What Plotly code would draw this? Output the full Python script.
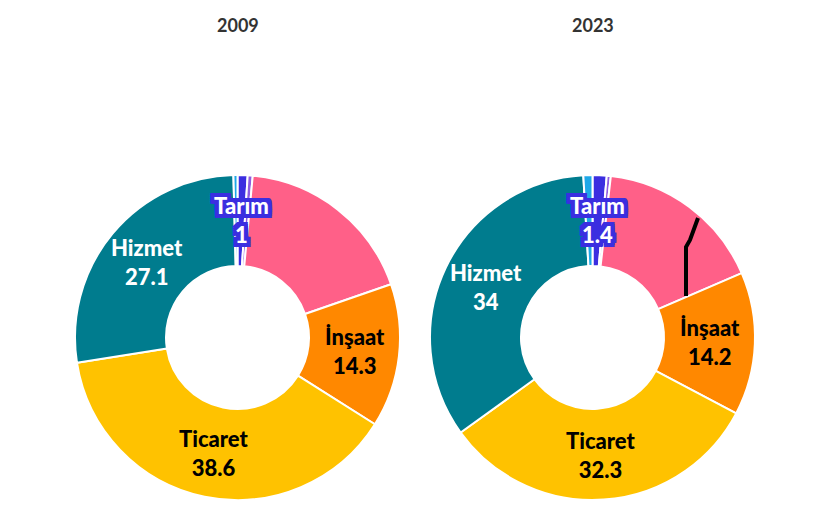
import math
import plotly.graph_objects as go

# ---- data ----
years = ["2009", "2023"]
sectors = ["Tarım", "Enerji", "Sanayi", "İnşaat", "Ticaret", "Hizmet", "Madencilik"]
values_2009 = [1.0, 0.5, 18.2, 14.3, 38.6, 27.1, 0.4]
values_2023 = [1.4, 0.4, 16.7, 14.2, 32.3, 34.0, 0.9]
labeled = ["Tarım", "İnşaat", "Ticaret", "Hizmet"]

colors = ["#3B2EE0", "#8F5CE0", "#FF6088", "#FF8800", "#FFC200", "#007C8E", "#1EA8E8"]
label_colors = {"Tarım": "white", "İnşaat": "black", "Ticaret": "black", "Hizmet": "white"}

W, H = 828, 507
OFF = 8  # page body margin
FONT = "Lato"
HOLE = 0.44
HALO = "#3B2EE0"


def px2paper(px, py):
    return (px - OFF) / W, 1 - (py - OFF) / H


# donut placement in screen pixels: centre x, centre y, radius
placements = [(237.5, 337.5, 162.5), (592.5, 337.5, 162.5)]

halo = ", ".join(f"{dx}px {dy}px 0 {HALO}"
                 for dx in (-4, -2, 0, 2, 4) for dy in (-4, -2, 0, 2, 4)
                 if not (dx == 0 and dy == 0))

fig = go.Figure()
annotations = []

for yr, vals, (cx, cy, R) in zip(years, [values_2009, values_2023], placements):
    x0, y1 = px2paper(cx - R, cy - R)
    x1, y0 = px2paper(cx + R, cy + R)
    fig.add_trace(go.Pie(
        labels=sectors, values=vals, hole=HOLE, sort=False,
        direction="clockwise", rotation=0,
        marker=dict(colors=colors, line=dict(color="white", width=2)),
        textinfo="none", showlegend=False,
        domain=dict(x=[x0, x1], y=[y0, y1]),
        hovertemplate="%{label}: %{value}<extra>" + yr + "</extra>",
    ))
    rl = R * (1 + HOLE) / 2 + 1
    total = sum(vals)
    cum = 0.0
    for name, v in zip(sectors, vals):
        mid = (cum + v / 2) / total * 360
        cum += v
        if name not in labeled:
            continue
        a = math.radians(mid)
        xp, yp = px2paper(cx + rl * math.sin(a), cy - rl * math.cos(a))
        txt = f"{v:g}"
        fnt = dict(family=FONT, size=22, color=label_colors[name], weight=900)
        if name == "Tarım":
            fnt["shadow"] = halo
        annotations.append(dict(
            x=xp, y=yp, xref="paper", yref="paper",
            text=f"{name}<br>{txt}", showarrow=False,
            xanchor="center", yanchor="middle", font=fnt,
        ))
    tx, ty = px2paper(cx, 25)
    annotations.append(dict(
        x=tx, y=ty, xref="paper", yref="paper", text=f"<b>{yr}</b>",
        xanchor="center", yanchor="middle",
        showarrow=False, font=dict(family=FONT, size=18, color="#333333"),
    ))

# leader line artifact in 2023 donut
pts = [(686, 296), (686, 247), (690, 240), (698, 218)]
path = "M " + " L ".join("{} {}".format(*px2paper(x, y)) for x, y in pts)
shapes = [dict(type="path", xref="paper", yref="paper", path=path,
               line=dict(color="black", width=4))]

fig.update_layout(
    width=W, height=H, margin=dict(l=0, r=0, t=0, b=0),
    paper_bgcolor="white", plot_bgcolor="white",
    annotations=annotations, shapes=shapes,
    font=dict(family=FONT),
)

fig.write_html("out.html")
